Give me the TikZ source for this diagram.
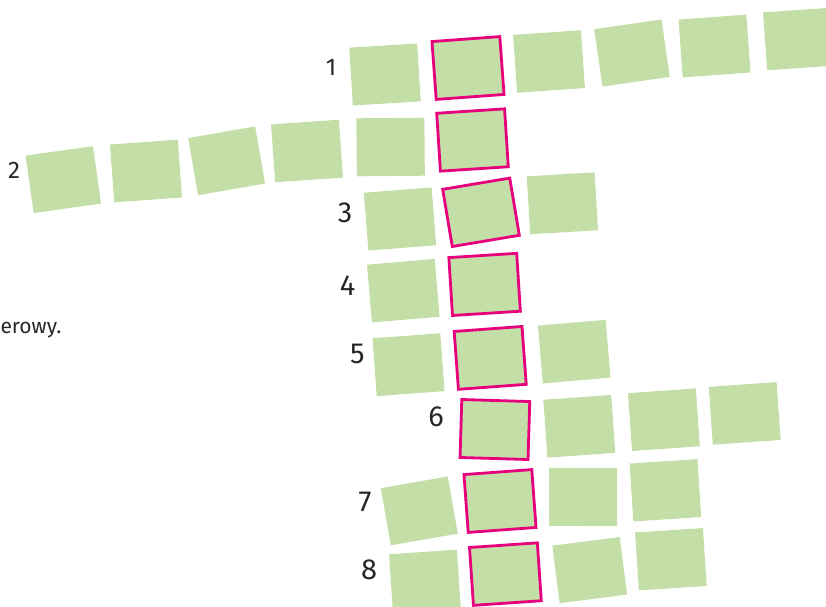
\documentclass[tikz,border=0pt]{standalone}
\usepackage{fontspec}
\setmainfont{Fira Sans}
\definecolor{cCell}{RGB}{195,223,167}
\definecolor{cKey}{RGB}{230,0,126}
\tikzset{
	cell/.style ={rectangle, minimum width=68pt, minimum height=58pt, inner sep=0pt, fill=cCell},
	key/.style  ={cell, draw=cKey, line width=2.8pt},
	num/.style  ={inner sep=0pt, text=black!85, font=\fontsize{29}{30}\selectfont},
	numsm/.style={num, font=\fontsize{24}{26}\selectfont},
}
\begin{document}
\begin{tikzpicture}[x=1pt, y=-1pt]
	\useasboundingbox (0,0) rectangle (826,606);
	\clip (0,0) rectangle (826,606);
	% row 1
	\node[cell, rotate=3.5] (r1a) at (385,74.5) {}; \node[key, rotate=4.2] (k1) at (468,68) {};
	\node[cell, rotate=4] (r1c) at (549,61.5) {}; \node[cell, rotate=8.2] (r1d) at (632,53) {};
	\node[cell, rotate=4.2] (r1e) at (714.5,46) {}; \node[cell, rotate=4] (r1f) at (799,39) {};
	% row 2
	\node[cell, rotate=8] (r2a) at (63.3,179.6) {}; \node[cell, rotate=4.2] (r2b) at (146,171) {};
	\node[cell, rotate=9.9] (r2c) at (226.6,160.8) {}; \node[cell, rotate=4] (r2d) at (307,151) {};
	\node[cell, rotate=0.5] (r2e) at (390.6,147) {}; \node[key, rotate=3.7] (k2) at (472.5,140) {};
	% row 3
	\node[cell, rotate=4.5] (r3a) at (400,219) {}; \node[key, rotate=9.5] (k3) at (481,212.3) {};
	\node[cell, rotate=3.4] (r3c) at (562.4,203.3) {};
	% row 4
	\node[cell, rotate=4.8] (r4a) at (403.3,290.7) {}; \node[key, rotate=3.6] (k4) at (484.6,284.4) {};
	% row 5
	\node[cell, rotate=4.2] (r5a) at (408.5,364.7) {}; \node[key, rotate=4.2] (k5) at (490.2,357.9) {};
	\node[cell, rotate=4.8] (r5c) at (574.2,351.6) {};
	% row 6
	\node[key, rotate=-1.7] (k6) at (494.9,429.5) {}; \node[cell, rotate=4] (r6b) at (579.3,426.3) {};
	\node[cell, rotate=4] (r6c) at (663.9,419.7) {}; \node[cell, rotate=4] (r6d) at (744.7,413.4) {};
	% row 7
	\node[cell, rotate=9.9] (r7a) at (419.3,510.9) {}; \node[key, rotate=4.2] (k7) at (500,501) {};
	\node[cell, rotate=-0.2] (r7c) at (583.1,497) {}; \node[cell, rotate=3.7] (r7d) at (665.4,490.3) {};
	% row 8
	\node[cell, rotate=3.9] (r8a) at (424.9,580.9) {}; \node[key, rotate=3.9] (k8) at (505.4,574.1) {};
	\node[cell, rotate=7.3] (r8c) at (589.7,570.1) {}; \node[cell, rotate=3.7] (r8d) at (670.9,559.2) {};
	% numbers
	\node[numsm] (n1) at (331,67) {1}; \node[numsm] (n2) at (14,170) {2};
	\node[num] (n3) at (345,213) {3}; \node[num] (n4) at (347.5,286) {4};
	\node[num] (n5) at (357.5,353.5) {5}; \node[num] (n6) at (436,416.5) {6};
	\node[num] (n7) at (365,502) {7}; \node[num] (n8) at (369,570) {8};
	\node[inner sep=0pt, anchor=base east, text=black!85, font=\fontsize{21}{22}\selectfont] (cut) at (61.5,333) {erowy.};
\end{tikzpicture}
\end{document}
